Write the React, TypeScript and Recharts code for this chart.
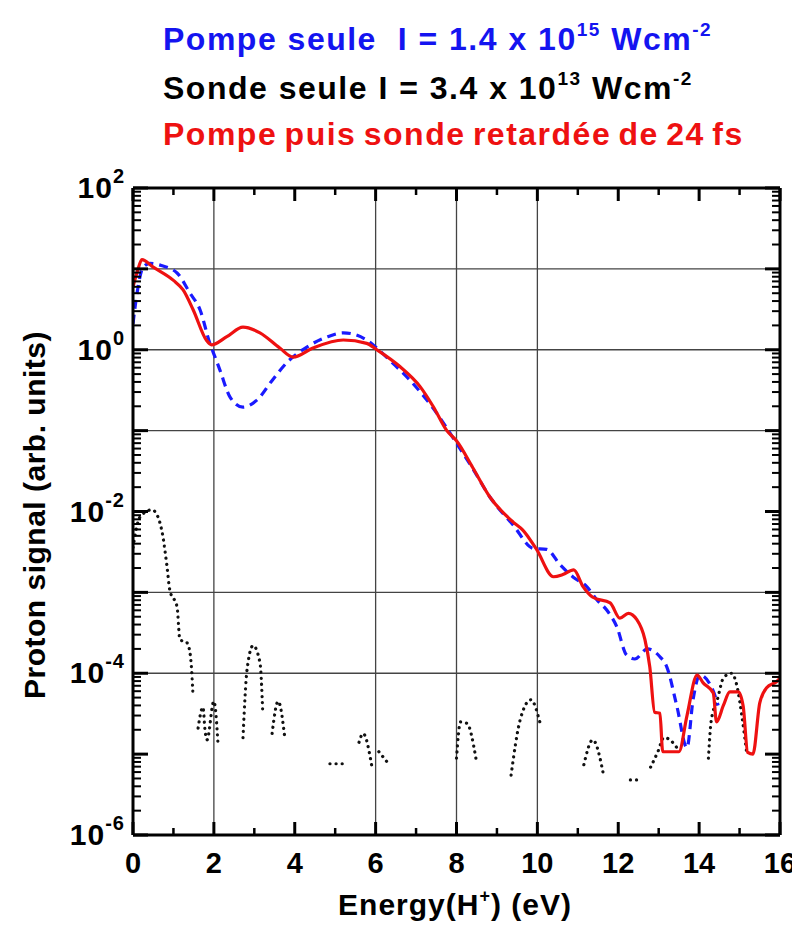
import React from 'react';
import { LineChart, Line, XAxis, YAxis, ReferenceLine } from 'recharts';

// pompe seule (blue dashed)
const ENERGY_PUMP = [0, 0.1, 0.25, 0.42, 0.7, 1.09, 1.41, 1.66, 1.9, 2.03, 2.15, 2.4, 2.72, 3.07, 3.46, 3.8, 4.3, 4.8, 5.2, 5.78, 6.03, 6.35, 6.85, 7.42, 8.0, 8.4, 8.83, 9.4, 9.9, 10.23, 10.56, 10.88, 11.22, 11.47, 11.72, 11.97, 12.2, 12.41, 12.72, 13.03, 13.2, 13.45, 13.7, 13.85, 14.02, 14.35, 14.47];
const SIGNAL_PUMP = [2.1, 5, 10.5, 11.7, 11, 8.9, 5, 3.1, 1.2, 0.81, 0.56, 0.26, 0.195, 0.24, 0.43, 0.69, 1.08, 1.44, 1.62, 1.32, 1.05, 0.74, 0.42, 0.19, 0.07, 0.034, 0.015, 0.0068, 0.0035, 0.0034, 0.0022, 0.00155, 0.00118, 0.00081, 0.0006, 0.00037, 0.00017, 0.00015, 0.0002, 0.00016, 0.00012, 0.000039, 0.000012, 0.000047, 0.000095, 0.00006, 0.00004];

// sonde seule (black dotted, with gaps)
const ENERGY_PROBE = [0, 0.17, 0.47, 0.62, 0.74, 0.84, 0.91, 1.09, 1.16, 1.33, 1.41, 1.46, 1.48, 1.55,
  1.61, 1.73, 1.78, 1.83, 2.0, 2.1, 2.4,
  2.72, 2.82, 2.97, 3.14, 3.21, 3.3,
  3.44, 3.59, 3.76, 4.5,
  4.87, 5.32, 5.45,
  5.59, 5.69, 5.91, 6.0,
  6.08, 6.3, 7.0,
  8.0, 8.1, 8.26, 8.48, 9.0,
  9.35, 9.57, 9.84, 10.06, 10.6,
  11.15, 11.37, 11.65, 12.0,
  12.3, 12.53, 12.7,
  12.8, 12.98, 13.13, 13.28, 13.45, 13.8,
  14.23, 14.3, 14.45, 14.6, 14.8, 14.94, 15.06, 15.18];
const SIGNAL_PROBE = [0.0036, 0.0085, 0.0105, 0.0085, 0.0049, 0.0021, 0.00107, 0.00066, 0.00026, 0.00024, 0.000178, 0.000091, 0.000059, null,
  0.000021, 0.000038, 0.00002, 0.000015, 0.000045, 0.000014, null,
  0.000016, 0.00011, 0.00022, 0.000135, 0.000032, null,
  0.000018, 0.000045, 0.000015, null,
  0.0000076, 0.0000076, null,
  0.000014, 0.000018, 0.0000069, null,
  0.0000107, 0.0000078, null,
  0.0000089, 0.000025, 0.000024, 0.0000089, null,
  0.0000055, 0.000026, 0.000047, 0.000025, null,
  0.0000074, 0.000015, 0.0000051, null,
  0.0000048, 0.0000048, null,
  0.0000069, 0.0000107, 0.000016, 0.000015, 0.000012, null,
  0.0000089, 0.000026, 0.000047, 0.000087, 0.0001, 0.000068, 0.000029, 0.00001];

// pompe puis sonde retardée de 24 fs (red solid)
const ENERGY_PP = [0, 0.1, 0.22, 0.5, 1.0, 1.24, 1.49, 1.82, 1.94, 2.32, 2.72, 3.14, 3.63, 3.96, 4.45, 5.2, 5.78, 6.03, 6.6, 7.1, 7.42, 7.76, 8.0, 8.4, 8.83, 9.4, 9.64, 9.98, 10.4, 10.63, 10.9, 11.13, 11.37, 11.8, 12.04, 12.25, 12.46, 12.66, 12.78, 12.9, 13.03, 13.1, 13.5, 13.7, 13.95, 14.1, 14.35, 14.43, 14.6, 14.76, 14.97, 15.09, 15.2, 15.33, 15.5, 15.67, 15.92, 16];
const SIGNAL_PP = [6, 9, 13, 10.5, 7.2, 5.5, 3.1, 1.3, 1.15, 1.45, 1.9, 1.62, 1.05, 0.81, 1.05, 1.32, 1.2, 1.0, 0.62, 0.35, 0.2, 0.1, 0.075, 0.035, 0.015, 0.0074, 0.0059, 0.0034, 0.00156, 0.00166, 0.0019, 0.00118, 0.00087, 0.00074, 0.00048, 0.00055, 0.00046, 0.00026, 0.00012, 0.000033, 0.000032, 0.0000107, 0.0000107, 0.00003, 0.000095, 0.000076, 0.000057, 0.000025, 0.00004, 0.000059, 0.000059, 0.000039, 0.0000105, 0.00001, 0.000043, 0.000066, 0.000079, 0.000087];

const X_TICKS = Array.from({ length: 17 }, (_, i) => i);
const X_GRID = [2, 6, 8, 10];
const Y_GRID = [10, 1, 0.1, 0.001, 0.0001];
const Y_TICKS: number[] = [];
for (let p = -6; p <= 1; p++) {
  for (let m = 1; m <= 9; m++) Y_TICKS.push(Number((m * Math.pow(10, p)).toPrecision(3)));
}
Y_TICKS.push(100);

const W = 792;
const H = 915;
const PLOT_LEFT = 125;
const PLOT_RIGHT = 772;
const PLOT_TOP = 180;
const PLOT_BOTTOM = 827;
const FONT = '"Liberation Sans", Arial, sans-serif';

const pumpData = ENERGY_PUMP.map((e, i) => ({ e, v: SIGNAL_PUMP[i] }));
const probeData = ENERGY_PROBE.map((e, i) => ({ e, v: SIGNAL_PROBE[i] }));
const ppData = ENERGY_PP.map((e, i) => ({ e, v: SIGNAL_PP[i] }));

const decade = (v: number) => {
  const l = Math.log10(v);
  const r = Math.round(l);
  return Math.abs(l - r) < 1e-6 ? r : null;
};

const BottomTick = (props: any) => {
  const { x, payload } = props;
  const v = payload.value;
  const major = v % 2 === 0;
  return (
    <g>
      <line x1={x} x2={x} y1={PLOT_BOTTOM} y2={PLOT_BOTTOM - (major ? 13 : 7)} stroke="#000" strokeWidth={major ? 3 : 2.5} />
      {major && (
        <text x={x} y={PLOT_BOTTOM + 38} textAnchor="middle" fontFamily={FONT} fontWeight="bold" fontSize={29} fill="#000">
          {v}
        </text>
      )}
    </g>
  );
};

const TopTick = (props: any) => {
  const { x, payload } = props;
  const major = payload.value % 2 === 0;
  return <line x1={x} x2={x} y1={PLOT_TOP} y2={PLOT_TOP + (major ? 13 : 7)} stroke="#000" strokeWidth={major ? 3 : 2.5} />;
};

const LeftTick = (props: any) => {
  const { y, payload } = props;
  const d = decade(payload.value);
  const major = d !== null;
  return (
    <g>
      <line x1={PLOT_LEFT} x2={PLOT_LEFT + (major ? 15 : 8)} y1={y} y2={y} stroke="#000" strokeWidth={major ? 3 : 2} />
      {major && d! % 2 === 0 && (
        <text x={PLOT_LEFT - 8} y={y} dy={10} textAnchor="end" fontFamily={FONT} fontWeight="bold" fontSize={30} letterSpacing={1} fill="#000">
          <tspan>10</tspan>
          <tspan dy={-15} fontSize={20}>{d}</tspan>
        </text>
      )}
    </g>
  );
};

const RightTick = (props: any) => {
  const { y, payload } = props;
  const major = decade(payload.value) !== null;
  return <line x1={PLOT_RIGHT} x2={PLOT_RIGHT - (major ? 15 : 8)} y1={y} y2={y} stroke="#000" strokeWidth={major ? 3 : 2} />;
};

const titleStyle: React.CSSProperties = {
  position: 'absolute',
  left: 155,
  margin: 0,
  fontFamily: FONT,
  fontWeight: 'bold',
  fontSize: 32,
  letterSpacing: 1.5,
  lineHeight: 1,
  whiteSpace: 'pre',
};
const sup: React.CSSProperties = { fontSize: 19, position: 'relative', top: -14, verticalAlign: 'baseline' };

export default function App() {
  return (
    <div style={{ position: 'relative', width: W, height: H, background: '#fff' }}>
      <style>{'.recharts-surface{overflow:visible}'}</style>
      <div style={{ ...titleStyle, top: 15, color: '#1414f0' }}>
        Pompe seule  I = 1.4 x 10<span style={sup}>15</span> Wcm<span style={sup}>-2</span>
      </div>
      <div style={{ ...titleStyle, top: 64, color: '#000' }}>
        Sonde seule I = 3.4 x 10<span style={sup}>13</span> Wcm<span style={sup}>-2</span>
      </div>
      <div style={{ ...titleStyle, top: 110, color: '#ee1111', wordSpacing: -3 }}>Pompe puis sonde retardée de 24 fs</div>

      <LineChart width={W} height={H} margin={{ top: 170, right: 10, bottom: 38, left: 35 }}>
        <XAxis xAxisId="bottom" type="number" dataKey="e" domain={[0, 16]} ticks={X_TICKS} interval={0} height={50}
          axisLine={{ stroke: '#000', strokeWidth: 3 }} tickLine={false} tick={BottomTick} allowDataOverflow />
        <XAxis xAxisId="top" orientation="top" type="number" dataKey="e" domain={[0, 16]} ticks={X_TICKS} interval={0} height={10}
          axisLine={{ stroke: '#000', strokeWidth: 3 }} tickLine={false} tick={TopTick} allowDataOverflow />
        <YAxis yAxisId="left" type="number" scale="log" domain={[1e-6, 100]} ticks={Y_TICKS} interval={0} width={90}
          axisLine={{ stroke: '#000', strokeWidth: 3 }} tickLine={false} tick={LeftTick} allowDataOverflow />
        <YAxis yAxisId="right" orientation="right" type="number" scale="log" domain={[1e-6, 100]} ticks={Y_TICKS} interval={0} width={10}
          axisLine={{ stroke: '#000', strokeWidth: 3 }} tickLine={false} tick={RightTick} allowDataOverflow />

        {X_GRID.map((g) => (
          <ReferenceLine key={'vx' + g} x={g} xAxisId="bottom" yAxisId="left" stroke="#444" strokeWidth={1.3} />
        ))}
        {Y_GRID.map((g) => (
          <ReferenceLine key={'hy' + g} y={g} xAxisId="bottom" yAxisId="left" stroke="#444" strokeWidth={1.3} />
        ))}

        <Line data={probeData} dataKey="v" xAxisId="bottom" yAxisId="left" type="monotone" stroke="#111" strokeWidth={3.2}
          strokeDasharray="0.1 6" strokeLinecap="round" dot={false} connectNulls={false} isAnimationActive={false} />
        <Line data={pumpData} dataKey="v" xAxisId="bottom" yAxisId="left" type="monotone" stroke="#1a1aff" strokeWidth={3.2}
          strokeDasharray="9 6" dot={false} isAnimationActive={false} />
        <Line data={ppData} dataKey="v" xAxisId="bottom" yAxisId="left" type="monotone" stroke="#ee1111" strokeWidth={3.2}
          dot={false} isAnimationActive={false} />
      </LineChart>

      <div style={{ position: 'absolute', left: 0, width: 894, top: 882, textAlign: 'center', fontFamily: FONT, fontWeight: 'bold', fontSize: 30, lineHeight: 1, letterSpacing: 1 }}>
        Energy(H<span style={{ fontSize: 18, position: 'relative', top: -13 }}>+</span>) (eV)
      </div>
      <div style={{ position: 'absolute', left: 27, top: 507, transform: 'translate(-50%, -50%) rotate(-90deg)', whiteSpace: 'nowrap',
        fontFamily: FONT, fontWeight: 'bold', fontSize: 30, lineHeight: 1, letterSpacing: 0.5 }}>
        Proton signal (arb. units)
      </div>
    </div>
  );
}
